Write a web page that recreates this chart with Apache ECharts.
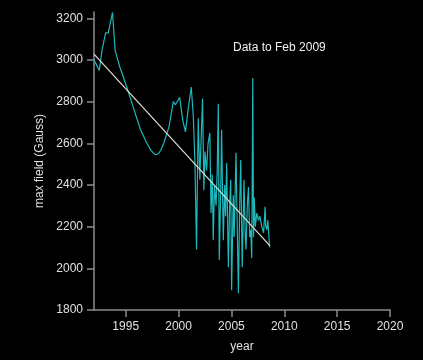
<!DOCTYPE html>
<html>
<head>
<meta charset="utf-8">
<script src="https://cdn.jsdelivr.net/npm/echarts@6/dist/echarts.min.js"></script>
<style>
html,body{margin:0;padding:0;background:#000;}
#c{width:423px;height:360px;}
</style>
</head>
<body>
<div id="c"></div>
<script>
// Observed max field (Gauss) by year
var years = [1992.0,1992.25,1992.5,1992.75,1993.1,1993.35,1993.5,1993.75,1994.0,1994.45,1995.1,1995.7,1996.4,1997.0,1997.4,1997.8,1998.1,1998.35,1998.6,1999.1,1999.5,1999.7,2000.1,2000.4,2000.65,2000.9,2001.2,2001.4,
2001.55,2001.70,2001.86,2002.01,2002.12,2002.27,2002.39,2002.50,2002.65,2002.79,2002.96,2003.07,2003.19,2003.28,2003.40,2003.55,2003.66,2003.76,2003.85,2003.98,
2004.07,2004.23,2004.36,2004.45,2004.55,2004.71,2004.83,2004.93,2005.02,2005.17,2005.26,2005.43,2005.55,2005.66,2005.78,2005.88,2006.02,2006.12,2006.19,2006.31,
2006.38,2006.50,2006.61,2006.73,2006.83,2006.92,2007.02,2007.09,2007.16,2007.26,2007.40,2007.56,2007.68,2007.78,2007.87,2008.04,2008.19,2008.25,2008.35,2008.44,2008.61];
var fields = [3000,2975,2950,3045,3130,3130,3130,3228,3045,2965,2870,2775,2665,2600,2565,2545,2550,2570,2600,2680,2800,2785,2820,2710,2655,2760,2870,2725,
2500,2090,2720,2425,2600,2815,2375,2560,2470,2600,2650,2265,2450,2135,2400,2300,2480,2790,2040,2350,
2665,2135,2400,2250,2505,2005,2300,2425,1895,2350,2150,2555,2200,1880,2300,2520,2005,2250,2425,2150,
2090,2300,2390,2150,2185,2050,2913,2150,2340,2200,2265,2230,2250,2245,2200,2170,2295,2200,2185,2230,2100];
// Linear trend endpoints
var trendYears = [1992.0, 2008.65];
var trendFields = [3028, 2108];
// Tick labels
var xTicks = [1995, 2000, 2005, 2010, 2015, 2020];
var yTicks = [1800, 2000, 2200, 2400, 2600, 2800, 3000, 3200];

var obs = years.map(function(y,i){return [y, fields[i]];});
var trend = trendYears.map(function(y,i){return [y, trendFields[i]];});

var chart = echarts.init(document.getElementById('c'));
var font = 'Liberation Sans, DejaVu Sans, sans-serif';
var plain = function(v){ return String(Math.round(v)); };
chart.setOption({
  animation: false,
  backgroundColor: '#000',
  grid: {left: 94, right: 33, top: 12, bottom: 50},
  title: {
    text: 'Data to Feb 2009', left: 228, top: 37,
    textStyle: {color: '#f0f0f0', fontSize: 12, fontWeight: 'normal', fontFamily: font}
  },
  xAxis: {
    type: 'value', min: 1992, max: 2020,
    name: 'year', nameLocation: 'middle', nameGap: 31,
    nameTextStyle: {color: '#e0e0e0', fontSize: 12, fontFamily: font},
    axisLine: {show: true, lineStyle: {color: '#8c8c8c', width: 1.5}},
    axisTick: {show: true, length: 7, lineStyle: {color: '#8c8c8c', width: 1.5}, customValues: xTicks},
    axisLabel: {color: '#e0e0e0', fontSize: 12, fontFamily: font, margin: 11, customValues: xTicks, formatter: plain},
    splitLine: {show: false}
  },
  yAxis: {
    type: 'value', min: 1800, max: 3230,
    name: 'max field (Gauss)', nameLocation: 'middle', nameGap: 48,
    nameTextStyle: {color: '#e0e0e0', fontSize: 12, fontFamily: font},
    axisLine: {show: true, lineStyle: {color: '#8c8c8c', width: 1.5}},
    axisTick: {show: true, length: 7, lineStyle: {color: '#8c8c8c', width: 1.5}, customValues: yTicks},
    axisLabel: {color: '#e0e0e0', fontSize: 12, fontFamily: font, margin: 11, customValues: yTicks, formatter: plain},
    splitLine: {show: false}
  },
  series: [
    {
      type: 'line', data: obs, showSymbol: false, smooth: false,
      lineStyle: {color: '#1cb8bc', width: 1.2}
    },
    {
      type: 'line', data: trend, showSymbol: false,
      lineStyle: {color: '#e6dfcf', width: 1.2}
    }
  ]
});
</script>
</body>
</html>
